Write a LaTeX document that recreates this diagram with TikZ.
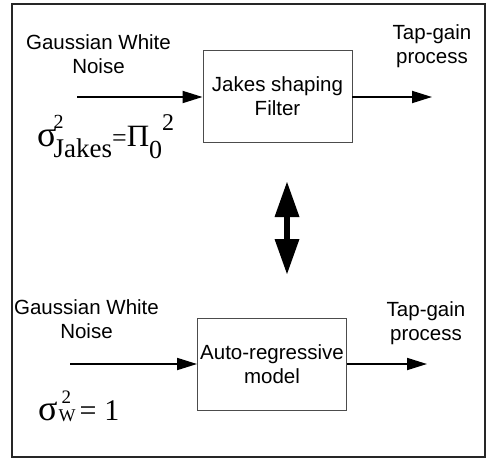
\documentclass[tikz,border=0pt]{standalone}
\usepackage{fontspec}
\setmainfont{Liberation Sans}
\newfontfamily\formulafont{Liberation Serif}
\usetikzlibrary{arrows.meta}
\newcommand\fsz[1]{\fontsize{#1}{#1}\selectfont}
\begin{document}
\begin{tikzpicture}[x=1pt,y=-1pt,
  % multi-line tags are placed by the baseline of their last line
  tag/.style={font=\fontsize{20.5}{24}\selectfont, align=center, inner sep=0pt, anchor=base},
  block/.style={draw=black!70, line width=0.9pt, minimum width=149pt,
    minimum height=92pt, inner sep=0pt, font=\fontsize{20.5}{24}\selectfont, align=center},
  flow/.style={line width=1.8pt, -{Triangle[length=20pt,width=12pt]}},
  swapper/.style={line width=6pt,
    {Triangle[length=35pt,width=25pt,line width=0pt]}-{Triangle[length=35pt,width=25pt,line width=0pt]}},
  formula/.style={anchor=base west, inner sep=0pt, font=\formulafont}
]
\useasboundingbox (0,0) rectangle (486,458);
% outer frame
\draw[line width=1.4pt, black!85] (12,4) rectangle (485,457);

% --- upper chain: Jakes shaping filter ---
\node[block] (jakes) at (277.5,96.5) {Jakes shaping\\Filter};
\coordinate (jakesin) at (77,97);
\coordinate (jakesout) at (432,97);
\draw[flow] (jakesin) -- (jakes.west |- jakesin);
\draw[flow] (jakes.east |- jakesout) -- (jakesout);
\node[tag] (noiseA) at (98.5,73) {Gaussian White\\Noise};
\node[tag] (tapA) at (432,63) {Tap-gain\\process};
\node[formula] (varA) at (37,146)
  {\fsz{36}σ\kern-3pt\rlap{\raisebox{18pt}{\fsz{20}2}}\raisebox{-11pt}{\fsz{27}Jakes}%
   {\fsz{26}=}{\fsz{31}Π}\raisebox{-12pt}{\fsz{26}0}\raisebox{16pt}{\fsz{24}2}};

% --- equivalence ---
\coordinate (eqtop) at (287,182);
\coordinate (eqbot) at (287,274);
\draw[swapper] (eqtop) -- (eqbot);

% --- lower chain: auto-regressive model ---
\node[block] (ar) at (272,364) {Auto-regressive\\model};
\coordinate (arin) at (70,364);
\coordinate (arout) at (427,364);
\draw[flow] (arin) -- (ar.west |- arin);
\draw[flow] (ar.east |- arout) -- (arout);
\node[tag] (noiseB) at (86.5,338) {Gaussian White\\Noise};
\node[tag] (tapB) at (426,340) {Tap-gain\\process};
\node[formula] (varB) at (38,420)
  {\fsz{36}σ\kern1pt\rlap{\raisebox{17pt}{\kern3pt\fsz{19}2}}\raisebox{-1pt}{\fsz{18}W}%
   \kern4pt{\fsz{30}=}\kern8pt{\fsz{30}1}};
\end{tikzpicture}
\end{document}
